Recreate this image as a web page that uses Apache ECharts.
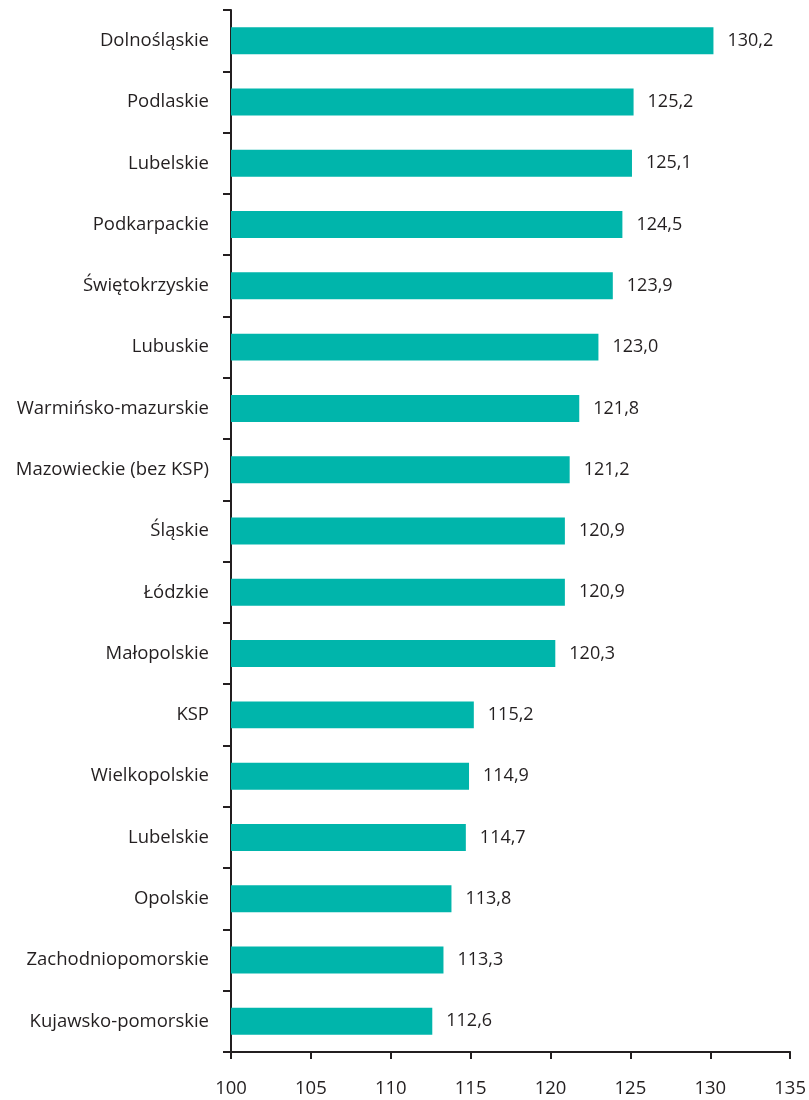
<!DOCTYPE html>
<html>
<head>
<meta charset="utf-8">
<script src="https://cdn.jsdelivr.net/npm/echarts@6/dist/echarts.min.js"></script>
<style>html,body{margin:0;padding:0;background:#fff;}#chart{width:809px;height:1100px;}</style>
</head>
<body>
<div id="chart"></div>
<script>
const categories = ["Dolnośląskie","Podlaskie","Lubelskie","Podkarpackie","Świętokrzyskie","Lubuskie","Warmińsko-mazurskie","Mazowieckie (bez KSP)","Śląskie","Łódzkie","Małopolskie","KSP","Wielkopolskie","Lubelskie","Opolskie","Zachodniopomorskie","Kujawsko-pomorskie"];
const values = [130.2,125.2,125.1,124.5,123.9,123.0,121.8,121.2,120.9,120.9,120.3,115.2,114.9,114.7,113.8,113.3,112.6];
const xTicks = [100,105,110,115,120,125,130,135];

const chart = echarts.init(document.getElementById('chart'));
const font = '"Open Sans", "Noto Sans", sans-serif';
const dark = '#231f20';
chart.setOption({
  animation: false,
  grid: {left: 231, right: 17, top: 10, bottom: 48, containLabel: false},
  xAxis: {
    type: 'value', min: xTicks[0], max: xTicks[xTicks.length-1], interval: 5,
    splitLine: {show: false},
    axisLine: {show: true, lineStyle: {color: dark, width: 2}},
    axisTick: {show: true, length: 7, lineStyle: {color: dark, width: 2}},
    axisLabel: {color: dark, fontFamily: font, fontSize: 18.5, margin: 27}
  },
  yAxis: {
    type: 'category', inverse: true,
    data: categories.map((c, i) => i),
    axisLine: {show: true, lineStyle: {color: dark, width: 2}},
    axisTick: {show: true, length: 8, lineStyle: {color: dark, width: 2}},
    axisLabel: {color: dark, fontFamily: font, fontSize: 18.5, margin: 22,
      formatter: (v, i) => categories[i]}
  },
  series: [{
    type: 'bar',
    data: values,
    barCategoryGap: '56%',
    itemStyle: {color: '#00b5ab'},
    label: {show: true, position: 'right', distance: 14, color: dark,
      fontFamily: font, fontSize: 18,
      formatter: p => p.value.toFixed(1).replace('.', ',')}
  }]
});
</script>
</body>
</html>
